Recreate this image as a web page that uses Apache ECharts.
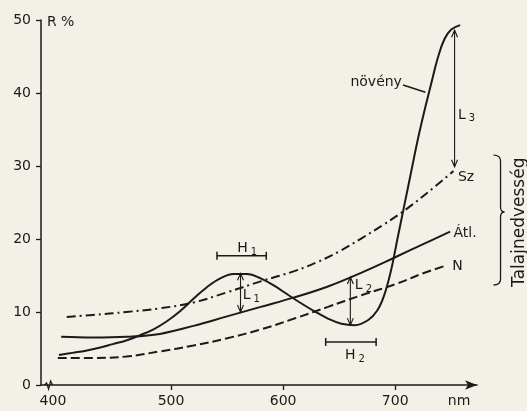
<!DOCTYPE html>
<html>
<head>
<meta charset="utf-8">
<script src="https://cdn.jsdelivr.net/npm/echarts@6/dist/echarts.min.js"></script>
<style>
  html, body { margin: 0; padding: 0; background: #f3f0e8; }
  #chart { width: 527px; height: 411px; }
</style>
</head>
<body>
<div id="chart"></div>
<script>
const FONT = 'DejaVu Sans';
const INK = '#1c1a18';

// Reflectance spectra: wavelength (nm) and reflectance (R %)
const plantNm = [400, 412, 424, 436, 448, 460, 472, 484, 496, 508, 520, 532, 544, 556, 568, 580, 592, 604, 616, 628, 640, 652, 664, 676, 684, 690, 696, 702, 708, 714, 720, 726, 732, 738, 744, 750, 758];
const plantR  = [4.1, 4.4, 4.7, 5.1, 5.6, 6.1, 6.8, 7.6, 8.7, 10.1, 11.8, 13.4, 14.6, 15.2, 15.2, 14.6, 13.6, 12.4, 11.2, 10.1, 9.1, 8.4, 8.2, 8.9, 10.2, 12.2, 15.5, 20.0, 24.5, 29.0, 33.5, 37.5, 41.2, 44.8, 47.4, 48.7, 49.3];

const wetNm = [407, 430, 460, 490, 520, 550, 580, 610, 630, 650, 670, 690, 710, 730, 752];
const wetR  = [9.3, 9.6, 10.0, 10.5, 11.3, 12.7, 14.2, 15.6, 16.8, 18.3, 20.1, 22.0, 24.1, 26.5, 29.3];

const avgNm = [402, 430, 460, 490, 520, 550, 580, 610, 640, 670, 700, 725, 749];
const avgR  = [6.6, 6.5, 6.6, 7.0, 8.1, 9.4, 10.7, 12.0, 13.5, 15.4, 17.5, 19.3, 21.0];

const dryNm = [399, 430, 460, 490, 520, 550, 580, 610, 640, 670, 700, 725, 746];
const dryR  = [3.7, 3.7, 3.9, 4.6, 5.4, 6.4, 7.6, 9.1, 10.7, 12.3, 13.8, 15.3, 16.4];

// Axis ticks
const yTicks = [0, 10, 20, 30, 40, 50];
const xLabelValues = [400, 500, 600, 700];
const xTickValues = [500, 600, 700];

// Width markers H: [fromNm, toNm, R]
const hBars = [
  [541, 585, 17.7],
  [638, 683, 5.9]
];
// Difference arrows L: [nm, topR, bottomR]
const lArrows = [
  [562, 15.3, 10.0],
  [660, 14.8, 8.2],
  [753, 48.6, 29.9]
];
// Text notes: [nm, R, text, align]
const notes = [
  [568, 18.7, '{m|H}{s|1}', 'center'],
  [564, 12.3, '{m|L}{s|1}', 'left'],
  [664, 13.6, '{m|L}{s|2}', 'left'],
  [664, 4.1, '{m|H}{s|2}', 'center'],
  [756, 37.0, '{m|L}{s|3}', 'left'],
  [706, 41.4, 'növény', 'right'],
  [756, 28.5, 'Sz', 'left'],
  [752, 20.8, 'Átl.', 'left'],
  [751, 16.3, 'N', 'left'],
  [757, -2.2, 'nm', 'center'],
  [389.3, 49.7, 'R %', 'left']
];
// Leader line from the "növény" label to its curve
const leaders = [[707, 41.1, 727, 40.1]];
// Brace grouping the soil-moisture curves: [nm, topR, midR, bottomR]
const brace = [794, 31.5, 23.7, 13.7];
const braceTitle = [811, 22.3, 'Talajnedvesség'];
// Axis break on the wavelength axis
const breakAt = [389, 0];

const zip = (xs, ys) => xs.map((x, i) => [x, ys[i]]);

const richText = {
  m: { fontFamily: FONT, fontSize: 14, lineHeight: 18, fill: INK, verticalAlign: 'middle' },
  s: { fontFamily: FONT, fontSize: 10, lineHeight: 18, fill: INK, verticalAlign: 'bottom', padding: [0, 0, 0, 3] }
};

const curve = (name, nmArr, rArr, dash) => ({
  name: name, type: 'line', data: zip(nmArr, rArr), showSymbol: false,
  smooth: 0.4,
  lineStyle: { color: INK, width: 2, type: dash }
});

const chart = echarts.init(document.getElementById('chart'), null, { renderer: 'canvas' });

chart.setOption({
  backgroundColor: '#f3f0e8',
  animation: false,
  grid: { left: 41, right: 50, top: 20, bottom: 26 },
  xAxis: {
    type: 'value',
    min: 384,
    max: 773,
    axisLine: {
      show: true,
      lineStyle: { color: INK, width: 1.5 },
      symbol: ['none', 'arrow'],
      symbolSize: [7, 12]
    },
    axisTick: { show: true, customValues: xTickValues, length: 5, lineStyle: { color: INK, width: 1.3 } },
    axisLabel: {
      customValues: xLabelValues, fontFamily: FONT, fontSize: 14, color: INK, margin: 9,
      // the first label sits just past the axis break
      formatter: v => (v === 400 ? '{first|400}' : String(v)),
      rich: { first: { fontFamily: FONT, fontSize: 14, color: INK, padding: [0, 12, 0, 0] } }
    },
    splitLine: { show: false }
  },
  yAxis: {
    type: 'value',
    min: 0,
    max: 50,
    interval: 10,
    axisLine: { show: true, lineStyle: { color: INK, width: 1.5 } },
    axisTick: { show: true, length: 5, lineStyle: { color: INK, width: 1.3 } },
    axisLabel: { fontFamily: FONT, fontSize: 14, color: INK, margin: 10, customValues: yTicks },
    splitLine: { show: false }
  },
  series: [
    curve('növény', plantNm, plantR, 'solid'),
    curve('Sz', wetNm, wetR, [9, 4, 2, 4]),
    curve('Átl.', avgNm, avgR, 'solid'),
    curve('N', dryNm, dryR, [9, 4]),
    {
      type: 'custom', clip: false, silent: true,
      data: hBars.map(b => [b[0], b[2], b[1]]),
      renderItem: (params, api) => {
        const a = api.coord([api.value(0), api.value(1)]);
        const b = api.coord([api.value(2), api.value(1)]);
        const st = { stroke: INK, lineWidth: 1.5, fill: null };
        return { type: 'group', children: [
          { type: 'line', shape: { x1: a[0], y1: a[1], x2: b[0], y2: b[1] }, style: st },
          { type: 'line', shape: { x1: a[0], y1: a[1] - 4, x2: a[0], y2: a[1] + 4 }, style: st },
          { type: 'line', shape: { x1: b[0], y1: b[1] - 4, x2: b[0], y2: b[1] + 4 }, style: st }
        ] };
      }
    },
    {
      type: 'custom', clip: false, silent: true,
      data: lArrows.map(a => [a[0], a[1], a[2]]),
      renderItem: (params, api) => {
        const t = api.coord([api.value(0), api.value(1)]);
        const b = api.coord([api.value(0), api.value(2)]);
        const st = { stroke: INK, lineWidth: 1.1, fill: null };
        return { type: 'group', children: [
          { type: 'line', shape: { x1: t[0], y1: t[1], x2: b[0], y2: b[1] }, style: st },
          { type: 'polyline', shape: { points: [[t[0] - 3, t[1] + 7], [t[0], t[1]], [t[0] + 3, t[1] + 7]] }, style: st },
          { type: 'polyline', shape: { points: [[b[0] - 3, b[1] - 7], [b[0], b[1]], [b[0] + 3, b[1] - 7]] }, style: st }
        ] };
      }
    },
    {
      type: 'custom', clip: false, silent: true,
      data: notes.map(n => [n[0], n[1]]),
      renderItem: (params, api) => {
        const n = notes[params.dataIndex];
        const p = api.coord([n[0], n[1]]);
        return {
          type: 'text', x: p[0], y: p[1],
          style: {
            text: n[2], rich: richText, fill: INK,
            fontFamily: FONT, fontSize: 14,
            align: n[3], verticalAlign: 'middle'
          }
        };
      }
    },
    {
      type: 'custom', clip: false, silent: true,
      data: leaders,
      renderItem: (params, api) => {
        const a = api.coord([api.value(0), api.value(1)]);
        const b = api.coord([api.value(2), api.value(3)]);
        return { type: 'line', shape: { x1: a[0], y1: a[1], x2: b[0], y2: b[1] }, style: { stroke: INK, lineWidth: 1.5 } };
      }
    },
    {
      type: 'custom', clip: false, silent: true,
      data: [brace],
      renderItem: (params, api) => {
        const top = api.coord([api.value(0), api.value(1)]);
        const mid = api.coord([api.value(0), api.value(2)]);
        const bot = api.coord([api.value(0), api.value(3)]);
        const x = top[0];
        const d = 'M' + (x - 7) + ' ' + top[1] +
          ' Q' + x + ' ' + top[1] + ' ' + x + ' ' + (top[1] + 6) +
          ' L' + x + ' ' + (mid[1] - 5) +
          ' Q' + x + ' ' + mid[1] + ' ' + (x + 4) + ' ' + mid[1] +
          ' Q' + x + ' ' + mid[1] + ' ' + x + ' ' + (mid[1] + 5) +
          ' L' + x + ' ' + (bot[1] - 6) +
          ' Q' + x + ' ' + bot[1] + ' ' + (x - 7) + ' ' + bot[1];
        return { type: 'path', shape: { pathData: d }, style: { stroke: INK, lineWidth: 1.3, fill: null } };
      }
    },
    {
      type: 'custom', clip: false, silent: true,
      data: [[braceTitle[0], braceTitle[1]]],
      renderItem: (params, api) => {
        const p = api.coord([api.value(0), api.value(1)]);
        return {
          type: 'text', x: p[0], y: p[1], rotation: Math.PI / 2,
          style: { text: braceTitle[2], fill: INK, fontFamily: FONT, fontSize: 17, align: 'center', verticalAlign: 'middle' }
        };
      }
    },
    {
      type: 'custom', clip: false, silent: true,
      data: [breakAt],
      renderItem: (params, api) => {
        const p = api.coord([api.value(0), api.value(1)]);
        const pts = [[p[0] - 2, p[1]], [p[0], p[1] - 2], [p[0] + 2, p[1] + 4], [p[0] + 4, p[1] - 4], [p[0] + 6, p[1]]];
        return { type: 'polyline', shape: { points: pts }, style: { stroke: INK, lineWidth: 1.3, fill: null } };
      }
    }
  ]
});
</script>
</body>
</html>
